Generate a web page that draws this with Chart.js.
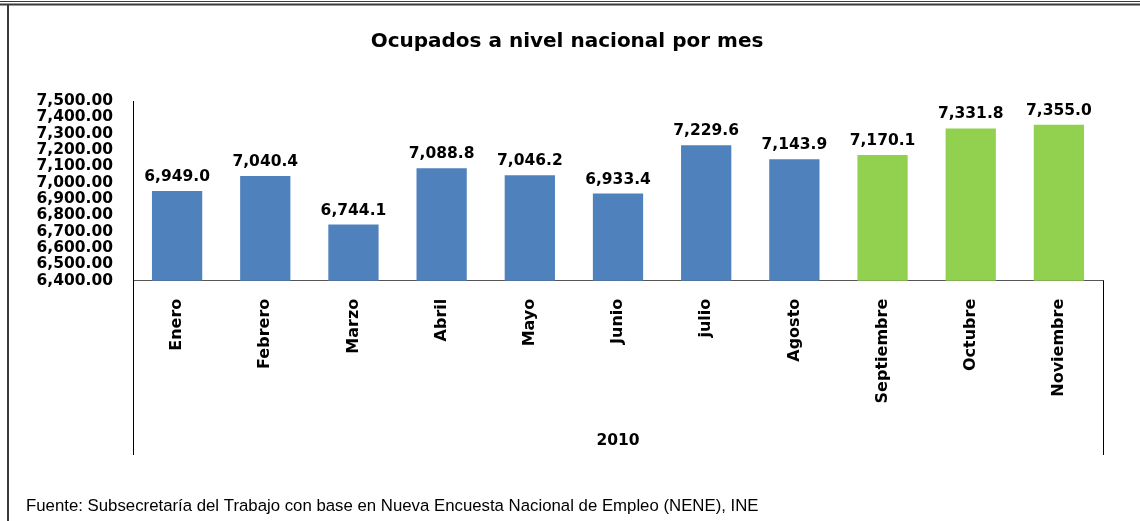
<!DOCTYPE html>
<html>
<head>
<meta charset="utf-8">
<script src="https://cdn.jsdelivr.net/npm/chart.js@4.4.0/dist/chart.umd.min.js"></script>
<style>
  html, body { margin: 0; padding: 0; background: #fff; }
  #wrap { width: 1140px; height: 521px; position: relative; }
</style>
</head>
<body>
<div id="wrap"><canvas id="c" width="1140" height="521"></canvas></div>
<script>
const categories = ['Enero', 'Febrero', 'Marzo', 'Abril', 'Mayo', 'Junio', 'julio', 'Agosto', 'Septiembre', 'Octubre', 'Noviembre'];
const ocupados = [6949.0, 7040.4, 6744.1, 7088.8, 7046.2, 6933.4, 7229.6, 7143.9, 7170.1, 7331.8, 7355.0];
const barColors = ['#4F81BD', '#4F81BD', '#4F81BD', '#4F81BD', '#4F81BD', '#4F81BD', '#4F81BD', '#4F81BD', '#92D050', '#92D050', '#92D050'];
const yMin = 6400, yMax = 7500, yStep = 100;
const titleText = 'Ocupados a nivel nacional por mes';
const groupLabel = '2010';
const sourceText = 'Fuente: Subsecretaría del Trabajo con base en Nueva Encuesta Nacional de Empleo (NENE), INE';

const BOLD = 'DejaVu Sans';

const decor = {
  id: 'decor',
  beforeDraw(chart) {
    const ctx = chart.ctx;
    ctx.save();
    ctx.fillStyle = '#fff';
    ctx.fillRect(0, 0, chart.width, chart.height);
    ctx.strokeStyle = '#3a3a3a';
    ctx.lineWidth = 1;
    ctx.beginPath(); ctx.moveTo(0, 1.5); ctx.lineTo(chart.width, 1.5); ctx.stroke();
    ctx.lineWidth = 2;
    ctx.beginPath(); ctx.moveTo(0, 4.5); ctx.lineTo(chart.width, 4.5); ctx.stroke();
    ctx.beginPath(); ctx.moveTo(8, 4); ctx.lineTo(8, chart.height); ctx.stroke();
    ctx.restore();
  },
  afterDraw(chart) {
    const ctx = chart.ctx;
    const xs = chart.scales.x;
    const area = chart.chartArea;
    ctx.save();
    ctx.strokeStyle = '#000';
    ctx.lineWidth = 1;
    ctx.beginPath();
    ctx.moveTo(Math.round(area.left) + 0.5, area.bottom);
    ctx.lineTo(Math.round(area.left) + 0.5, xs.bottom);
    ctx.moveTo(Math.round(area.right) + 0.5, area.bottom);
    ctx.lineTo(Math.round(area.right) + 0.5, xs.bottom);
    ctx.stroke();
    const meta = chart.getDatasetMeta(0);
    ctx.fillStyle = '#000';
    ctx.font = 'bold 15.5px "' + BOLD + '"';
    ctx.textAlign = 'center';
    ctx.textBaseline = 'alphabetic';
    meta.data.forEach((bar, i) => {
      const v = ocupados[i].toLocaleString('en-US', {minimumFractionDigits: 1, maximumFractionDigits: 1});
      ctx.fillText(v, bar.x, bar.y - 10);
    });
    ctx.font = '16.8px "Liberation Sans"';
    ctx.textAlign = 'left';
    ctx.fillText(sourceText, 26, 511);
    ctx.restore();
  }
};

new Chart(document.getElementById('c'), {
  type: 'bar',
  data: {
    labels: categories,
    datasets: [{
      data: ocupados,
      backgroundColor: barColors,
      borderWidth: 0,
      barPercentage: 0.57,
      categoryPercentage: 1.0
    }]
  },
  options: {
    responsive: false,
    animation: false,
    events: [],
    layout: { padding: { top: 0, left: 31, right: 37, bottom: 66 } },
    plugins: {
      legend: { display: false },
      tooltip: { enabled: false },
      title: {
        display: true,
        text: titleText,
        color: '#000',
        font: { family: BOLD, weight: 'bold', size: 20, lineHeight: 1.2 },
        padding: { top: 30, bottom: 47 }
      }
    },
    scales: {
      x: {
        grid: { display: false, drawTicks: false },
        border: { display: true, color: '#555', width: 1 },
        ticks: {
          color: '#000',
          autoSkip: false,
          maxRotation: 90,
          minRotation: 90,
          padding: 18,
          font: { family: BOLD, weight: 'bold', size: 16 }
        },
        title: {
          display: true,
          text: groupLabel,
          color: '#000',
          font: { family: BOLD, weight: 'bold', size: 15.5, lineHeight: 1.2 },
          padding: { top: 10, bottom: 5 }
        }
      },
      y: {
        min: yMin,
        max: yMax,
        afterFit(scale) { scale.width = 102; },
        grid: { display: false, drawTicks: false },
        border: { display: true, color: '#000', width: 1 },
        ticks: {
          stepSize: yStep,
          autoSkip: false,
          color: '#000',
          padding: 20,
          font: { family: BOLD, weight: 'bold', size: 15.5, lineHeight: 1.0 },
          callback: (v) => Number(v).toLocaleString('en-US', {minimumFractionDigits: 2, maximumFractionDigits: 2})
        }
      }
    }
  },
  plugins: [decor]
});
</script>
</body>
</html>
